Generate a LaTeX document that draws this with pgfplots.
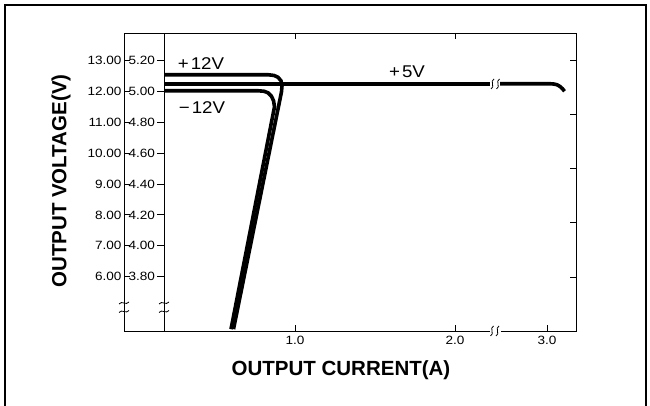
\documentclass[border=0pt]{standalone}
\usepackage{fontspec}
\setmainfont{Liberation Sans}
\newfontfamily\tickfont[FakeStretch=1.13]{Liberation Sans}
\newfontfamily\lblfont[FakeStretch=1.1]{Liberation Sans}
\usepackage{pgfplots}
\pgfplotsset{compat=1.18}
\begin{document}
\begin{tikzpicture}[x=1pt,y=1pt]
\path[use as bounding box] (0,0) rectangle (650,406);
\draw[line width=1.5pt] (5,0) -- (5,401) -- (646,401) -- (646,0);

% main axis (12 V scale, outer)
\begin{axis}[
  at={(124pt,75pt)}, anchor=south west,
  scale only axis, width=452pt, height=298pt,
  xmin=-0.06875, xmax=2.75625,
  ymin=4.241, ymax=13.888,
  axis line style={line width=0.8pt},
  xtick={1,2,2.575}, xticklabels={1.0,2.0,3.0},
  xtick pos=bottom, ytick pos=left,
  ytick={6,7,8,9,10,11,12,13},
  yticklabel={\pgfmathprintnumber[fixed,fixed zerofill,precision=2]{\tick}},
  tick align=inside,
  major tick length=6pt,
  tick style={line width=0.8pt,black},
  ticklabel style={font=\tickfont\fontsize{12}{14}\selectfont},
  yticklabel style={xshift=1pt},
  xticklabel style={yshift=-2pt},
  /pgf/number format/assume math mode=true,
]
\addplot[black, line width=3.6pt, line join=round] coordinates {
(0.18125,12.537) (0.83125,12.537) (0.86875,12.514) (0.89375,12.456) (0.9125,12.342) (0.91875,12.180) (0.915625,11.986) (0.615625,4.30)};
\addplot[black, line width=3.6pt, line join=round] coordinates {
(0.18125,12.018) (0.76875,12.018) (0.80625,12.002) (0.83125,11.953) (0.853,11.840) (0.866,11.694) (0.871875,11.500) (0.6,4.30)};
\end{axis}

% inner axis (5 V scale)
\begin{axis}[
  at={(164pt,75pt)}, anchor=south west,
  scale only axis, width=412pt, height=298pt,
  xmin=0.18125, xmax=2.75625,
  ymin=3.4482, ymax=5.3776,
  axis x line=none, axis y line*=left,
  axis line style={-, line width=0.8pt},
  xtick=\empty,
  ytick={3.8,4,4.2,4.4,4.6,4.8,5,5.2},
  yticklabel={\pgfmathprintnumber[fixed,fixed zerofill,precision=2]{\tick}},
  tick align=outside,
  major tick length=6.5pt,
  tick style={line width=0.8pt,black},
  ticklabel style={font=\tickfont\fontsize{12}{14}\selectfont},
  yticklabel style={xshift=1pt},
  /pgf/number format/assume math mode=true,
]
\addplot[black, line width=3.6pt, line join=round] coordinates {
(0.18125,5.049) (2.21875,5.049)};
\addplot[black, line width=3.6pt, line join=round] coordinates {
(2.28125,5.049) (2.59375,5.049) (2.61875,5.047) (2.6375,5.0426) (2.65625,5.0314) (2.671875,5.0166) (2.684375,5.0004)};
\end{axis}

% top and right ticks
\foreach \xx in {295,455.6} \draw[line width=0.8pt] (\xx,373) -- (\xx,367);
\foreach \yy in {345.3,292,238,183.3,129} \draw[line width=0.8pt] (576,\yy) -- (569.5,\yy);

% break on x axis
\fill[white] (489.5,73.5) rectangle (500.5,76.5);
\foreach \xx in {492,497.5} \draw[line width=0.8pt] (\xx+1.5,80) .. controls (\xx-3,78) and (\xx+3,72) .. (\xx-1.5,70);
% break on +5V line
\foreach \xx in {492.5,498} \draw[line width=0.8pt] (\xx+1.5,327) .. controls (\xx-3,325) and (\xx+3,319) .. (\xx-1.5,317);

% breaks on y axes
\foreach \xx in {124,164} {
  \foreach \yy in {103,94.5} {
    \draw[line width=0.8pt] (\xx-5,\yy-1) .. controls (\xx-2,\yy+3) and (\xx+2,\yy-3) .. (\xx+5,\yy+1);
  }
}

% curve labels
\node[font=\lblfont\fontsize{17}{19}\selectfont, anchor=center] at (201,342) {+\kern2pt12V};
\node[font=\lblfont\fontsize{17}{19}\selectfont, anchor=center] at (202,298) {−\kern2pt12V};
\node[font=\lblfont\fontsize{17}{19}\selectfont, anchor=center] at (407,334.3) {+\kern2pt5V};

% axis titles
\node[font=\bfseries\fontsize{20.5}{24}\selectfont, anchor=center] at (341,35.5) {OUTPUT CURRENT(A)};
\node[font=\bfseries\fontsize{20.5}{24}\selectfont, anchor=center, rotate=90] at (61,225) {OUTPUT VOLTAGE(V)};
\end{tikzpicture}
\end{document}
